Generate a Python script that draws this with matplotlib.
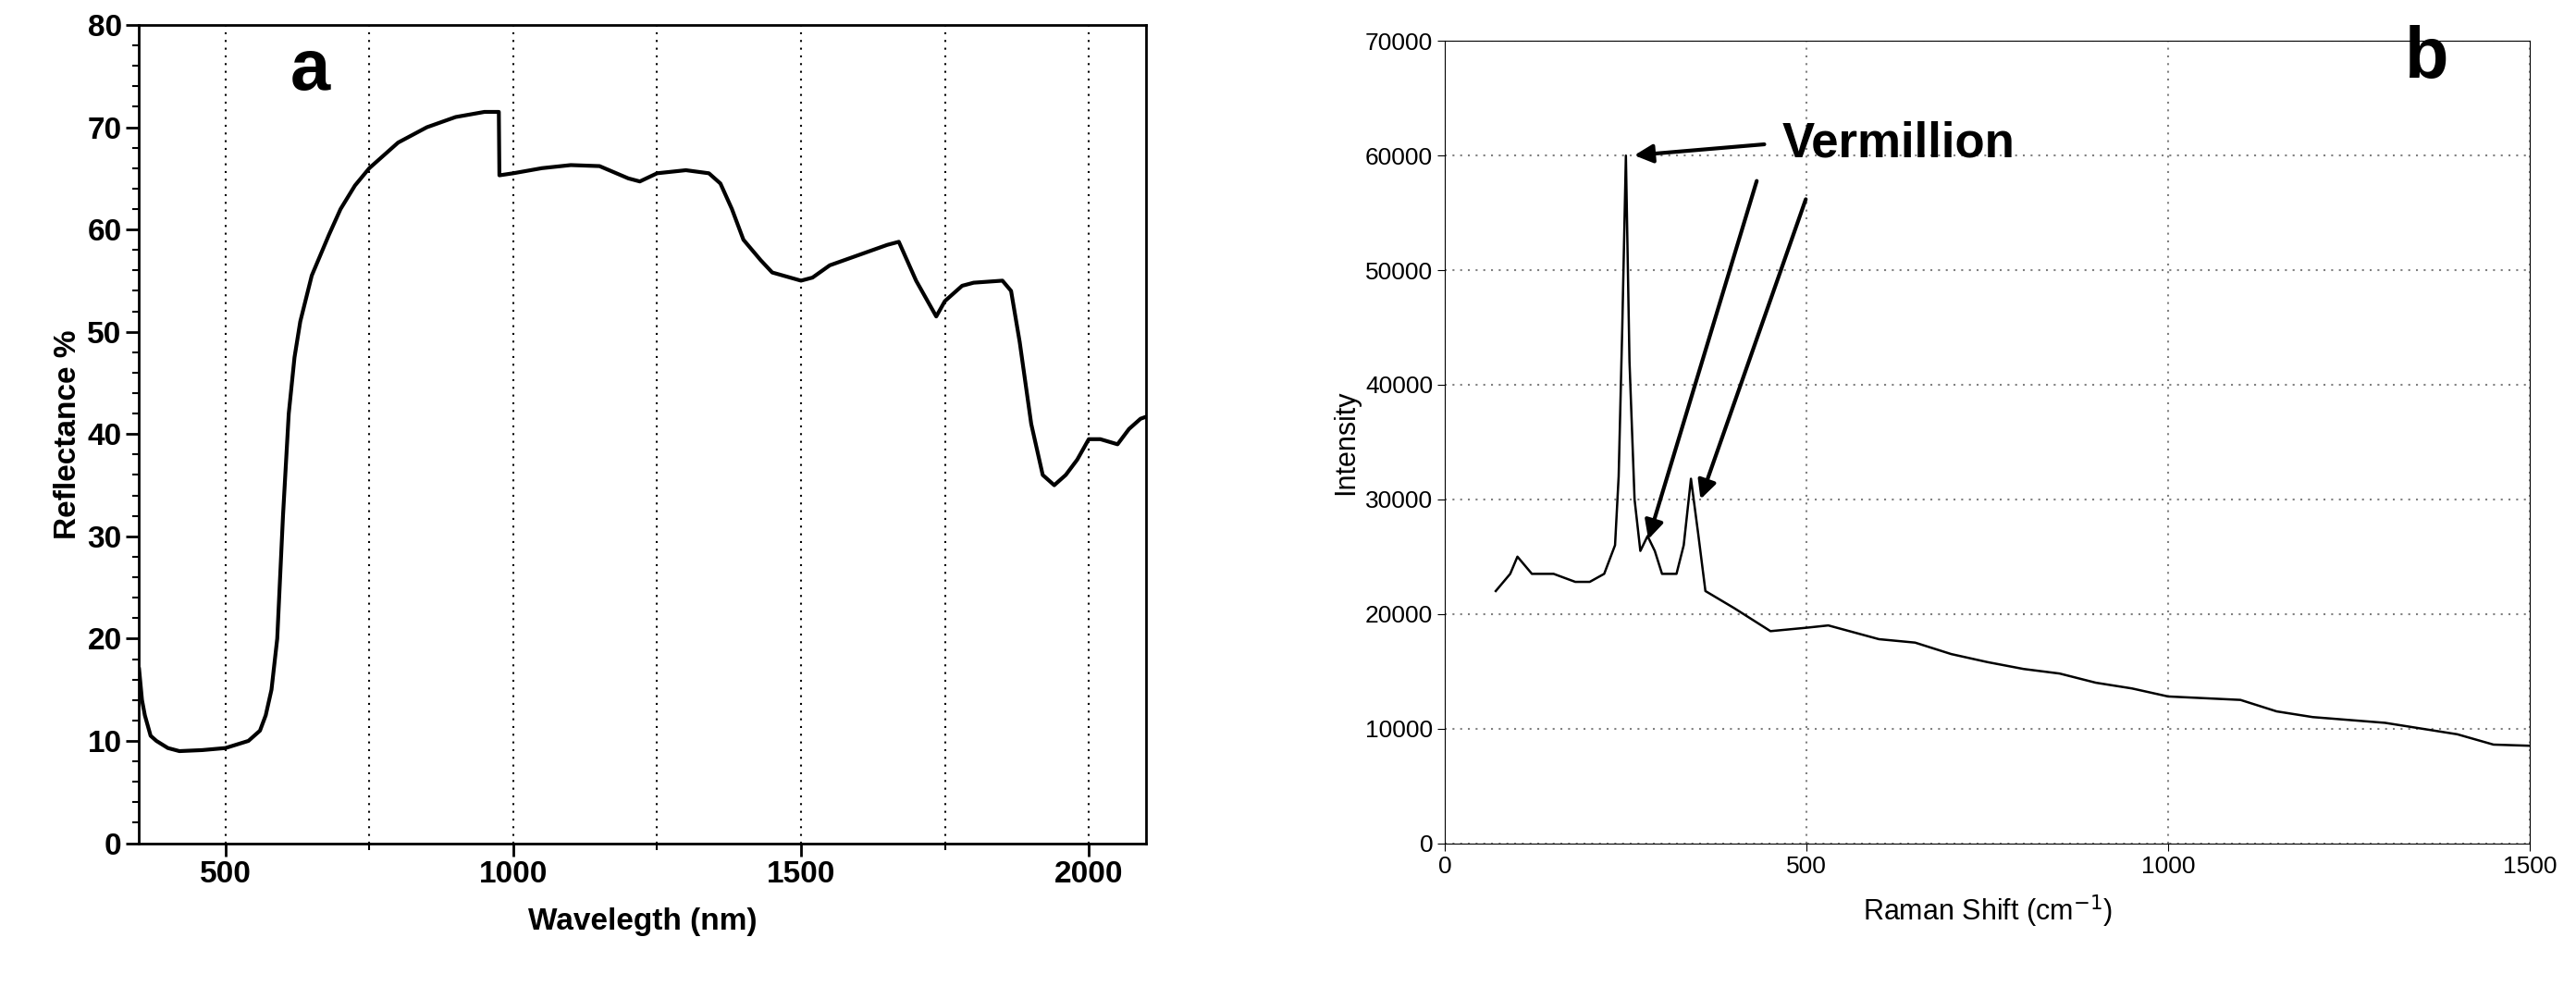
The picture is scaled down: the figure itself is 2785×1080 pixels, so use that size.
import matplotlib
matplotlib.use("Agg")
import matplotlib.pyplot as plt
from matplotlib.ticker import MultipleLocator

plt.rcParams['font.family'] = ['Liberation Sans', 'DejaVu Sans']

wl = [350,355,360,370,380,400,420,460,500,540,560,570,580,590,600,610,620,630,650,680,700,725,750,800,850,900,950,975,976,1000,1050,1100,1150,1200,1220,1250,1300,1340,1360,1380,1400,1430,1450,1500,1520,1550,1600,1650,1670,1700,1720,1735,1750,1780,1800,1850,1865,1880,1900,1920,1940,1960,1980,2000,2020,2050,2070,2090,2100]
refl = [17,14,12.5,10.5,10,9.3,9,9.1,9.3,10,11,12.5,15,20,32,42,47.5,51,55.5,59.5,62,64.3,66,68.5,70,71,71.5,71.5,65.3,65.5,66,66.3,66.2,65,64.7,65.5,65.8,65.5,64.5,62,59,57,55.8,55,55.3,56.5,57.5,58.5,58.8,55,53,51.5,53,54.5,54.8,55,54,49,41,36,35,36,37.5,39.5,39.5,39,40.5,41.5,41.7]

shift = [70,90,100,120,150,180,200,220,235,240,245,250,255,262,270,280,290,300,320,330,340,350,360,400,450,500,530,600,650,700,750,800,850,900,950,1000,1100,1150,1200,1300,1400,1450,1500]
inten = [22000,23500,25000,23500,23500,22800,22800,23500,26000,32000,45000,60000,42000,30000,25500,26800,25500,23500,23500,26000,31800,27000,22000,20500,18500,18800,19000,17800,17500,16500,15800,15200,14800,14000,13500,12800,12500,11500,11000,10500,9500,8600,8500]

fig = plt.figure(figsize=(27.85, 10.8), dpi=100)
ax1 = fig.add_axes([0.054, 0.156, 0.391, 0.819])
ax1.plot(wl, refl, color='black', lw=3)
ax1.set_xlim(350, 2100); ax1.set_ylim(0, 80)
ax1.set_xticks([500, 1000, 1500, 2000])
ax1.xaxis.set_minor_locator(MultipleLocator(250))
ax1.yaxis.set_major_locator(MultipleLocator(10))
ax1.yaxis.set_minor_locator(MultipleLocator(2))
for v in [500,750,1000,1250,1500,1750,2000]:
    ax1.axvline(v, color='black', ls=(0,(1,3)), lw=1.5)
ax1.tick_params(which='major', length=10, width=2, labelsize=24)
ax1.tick_params(which='minor', length=5, width=1.5)
for l in ax1.get_xticklabels()+ax1.get_yticklabels():
    l.set_fontweight('bold')
for s in ax1.spines.values(): s.set_linewidth(2)
ax1.set_xlabel('Wavelegth (nm)', fontsize=24, fontweight='bold', labelpad=14)
ax1.set_ylabel('Reflectance %', fontsize=24, fontweight='bold')
ax1.text(0.15, 0.985, 'a', transform=ax1.transAxes, fontsize=56, fontweight='bold', va='top')

ax2 = fig.add_axes([0.561, 0.156, 0.421, 0.803])
ax2.plot(shift, inten, color='black', lw=1.8)
ax2.set_xlim(0, 1500); ax2.set_ylim(0, 70000)
ax2.set_xticks([0, 500, 1000, 1500])
ax2.set_yticks(range(0, 70001, 10000))
ax2.grid(True, color='gray', ls=(0,(1,3)), lw=1.5)
ax2.tick_params(length=6, labelsize=19)
ax2.set_xlabel('Raman Shift (cm$^{-1}$)', fontsize=22, labelpad=12)
ax2.set_ylabel('Intensity', fontsize=22)
ax2.text(0.885, 1.02, 'b', transform=ax2.transAxes, fontsize=56, fontweight='bold', va='top')
ax2.text(466, 61000, 'Vermillion', fontsize=38, fontweight='bold', va='center')
ap = dict(arrowstyle='-|>', color='black', lw=3, mutation_scale=30)
ax2.annotate('', xy=(258, 60000), xytext=(445, 61000), arrowprops=ap)
ax2.annotate('', xy=(280, 26300), xytext=(432, 58000), arrowprops=ap)
ax2.annotate('', xy=(352, 29800), xytext=(500, 56400), arrowprops=ap)

fig.savefig('out.png', dpi=100)
